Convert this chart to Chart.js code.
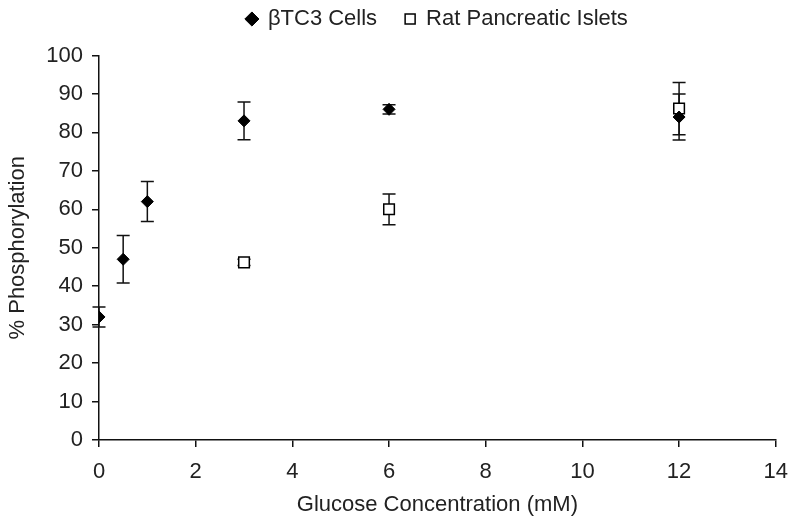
<!DOCTYPE html>
<html>
<head>
<meta charset="utf-8">
<script src="https://cdn.jsdelivr.net/npm/chart.js@4"></script>
<style>
html,body{margin:0;padding:0;background:#fff;}
#wrap{width:800px;height:528px;}
</style>
</head>
<body>
<div id="wrap"><canvas id="c" width="800" height="528"></canvas></div>
<script>
// Data
const seriesNames = ["\u03B2TC3 Cells", "Rat Pancreatic Islets"];
const btcGlucose = [0, 0.5, 1, 3, 6, 12];
const btcPhos    = [32, 47, 62, 83, 86, 84];
const btcErr     = [2.6, 6.2, 5.2, 4.9, 1.2, 6];
const ratGlucose = [3, 6, 12];
const ratPhos    = [46.2, 60, 86.2];
const ratErr     = [0.8, 4, 6.8];
const xTicks = [0, 2, 4, 6, 8, 10, 12, 14];
const yTicks = [0, 10, 20, 30, 40, 50, 60, 70, 80, 90, 100];

const FONT = "'Liberation Sans', Arial, Helvetica, sans-serif";
const TXT = '#222';
const FS = 22;
const LAYOUT_TOP = -20;     // legend box starts here
const PLOT_TOP = 55.5;      // desired top of plot area

const errorBars = {
  id: 'errorBars',
  beforeDatasetsDraw(chart) {
    const ctx = chart.ctx;
    const xs = chart.scales.x, ys = chart.scales.y;
    chart.data.datasets.forEach((ds) => {
      const errs = ds.errors;
      if (!errs) return;
      ctx.save();
      ctx.strokeStyle = '#111';
      ctx.lineWidth = 1.5;
      ds.data.forEach((p, i) => {
        const px = xs.getPixelForValue(p.x);
        const top = ys.getPixelForValue(p.y + errs[i]);
        const bot = ys.getPixelForValue(p.y - errs[i]);
        ctx.beginPath();
        ctx.moveTo(px, top); ctx.lineTo(px, bot);
        ctx.moveTo(px - 6.5, top); ctx.lineTo(px + 6.5, top);
        ctx.moveTo(px - 6.5, bot); ctx.lineTo(px + 6.5, bot);
        ctx.stroke();
      });
      ctx.restore();
    });
  }
};

const legendSpace = {
  id: 'legendSpace',
  beforeLayout(chart) {
    const lg = chart.legend;
    if (lg && !lg._spacePatched) {
      const f = lg.fit.bind(lg);
      lg.fit = function () { f(); this.height = PLOT_TOP - LAYOUT_TOP; };
      lg._spacePatched = true;
    }
  }
};

new Chart(document.getElementById('c'), {
  type: 'scatter',
  data: {
    datasets: [
      {
        label: seriesNames[0],
        data: btcGlucose.map((x, i) => ({x, y: btcPhos[i]})),
        errors: btcErr,
        pointStyle: 'rectRot',
        pointRadius: 6,
        pointHoverRadius: 6,
        backgroundColor: '#000',
        borderColor: '#000',
        borderWidth: 1
      },
      {
        label: seriesNames[1],
        data: ratGlucose.map((x, i) => ({x, y: ratPhos[i]})),
        errors: ratErr,
        pointStyle: 'rect',
        pointRadius: 7.5,
        pointHoverRadius: 7.5,
        backgroundColor: '#fff',
        borderColor: '#000',
        borderWidth: 1.5
      }
    ]
  },
  options: {
    responsive: false,
    animation: false,
    devicePixelRatio: 1,
    layout: { padding: { left: 0, right: 15, top: LAYOUT_TOP, bottom: 0 } },
    plugins: {
      legend: {
        position: 'top',
        fullSize: false,
        labels: {
          usePointStyle: true,
          boxWidth: 10,
          boxHeight: 10,
          padding: 28,
          color: TXT,
          font: { family: FONT, size: FS }
        }
      },
      tooltip: { enabled: false }
    },
    scales: {
      x: {
        type: 'linear',
        min: 0, max: 14,
        afterBuildTicks: (s) => { s.ticks = xTicks.map(v => ({value: v})); },
        afterFit: (s) => { s.height = 88; },
        ticks: { color: TXT, font: { family: FONT, size: FS }, padding: 12 },
        grid: { drawOnChartArea: false, drawTicks: true, tickLength: 7, color: '#111', lineWidth: 1.5 },
        border: { display: true, color: '#111', width: 1.5 },
        title: { display: true, text: 'Glucose Concentration (mM)', color: TXT, font: { family: FONT, size: FS }, padding: { top: 0, bottom: 10 } }
      },
      y: {
        type: 'linear',
        min: 0, max: 100,
        afterBuildTicks: (s) => { s.ticks = yTicks.map(v => ({value: v})); },
        afterFit: (s) => { s.width = 99; },
        ticks: { color: TXT, font: { family: FONT, size: FS }, padding: 9 },
        grid: { drawOnChartArea: false, drawTicks: true, tickLength: 7, color: '#111', lineWidth: 1.5 },
        border: { display: true, color: '#111', width: 1.5 },
        title: { display: true, text: '% Phosphorylation', color: TXT, font: { family: FONT, size: FS }, padding: { top: 5, bottom: 0 } }
      }
    }
  },
  plugins: [errorBars, legendSpace]
});
</script>
</body>
</html>
